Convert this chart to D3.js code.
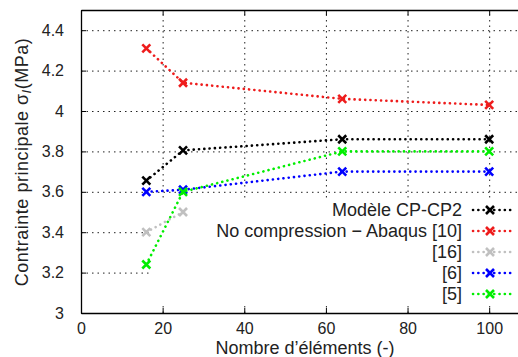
<!DOCTYPE html>
<html>
<head>
<meta charset="utf-8">
<script src="https://cdn.jsdelivr.net/npm/d3@7"></script>
<style>
  body { margin: 0; background: #fff; }
  svg text { font-family: "Liberation Sans", Arial, sans-serif; }
</style>
</head>
<body>
<div class="chartHolder"></div>
<script>
// data
var xVals = [16, 25, 64, 100];
var cpcp2 = [3.655, 3.805, 3.86, 3.86];
var noCompression = [4.31, 4.14, 4.06, 4.03];
var ref16 = [3.40, 3.50];
var ref6 = [3.60, 3.61, 3.70, 3.70];
var ref5 = [3.24, 3.60, 3.80, 3.80];
var seriesNames = ["Modèle CP-CP2", "No compression \u2212 Abaqus [10]", "[16]", "[6]", "[5]"];
var seriesColors = ["#000000", "#ee1c1c", "#c0c0c0", "#0000ff", "#00ee00"];
var xTicks = [0, 20, 40, 60, 80, 100];
var yTicks = [3, 3.2, 3.4, 3.6, 3.8, 4, 4.2, 4.4];

var svgW = 518, svgH = 357;
var margin = { top: 10, left: 81, bottom: 44 };
var w = 449, h = svgH - margin.top - margin.bottom;

var svg = d3.select(".chartHolder").append("svg").attr("width", svgW).attr("height", svgH);
var g = svg.append("g").attr("transform", "translate(" + margin.left + "," + margin.top + ")");

var xScale = d3.scaleLinear().domain([0, 110]).range([0, w]);
var yScale = d3.scaleLinear().domain([3, 4.5]).range([h, 0]);

// grid
var gridX = g.append("g").attr("class", "grid").attr("transform", "translate(0," + h + ")")
  .call(d3.axisBottom(xScale).tickValues(xTicks.slice(1)).tickSize(-h).tickFormat(""));
var gridY = g.append("g").attr("class", "grid")
  .call(d3.axisLeft(yScale).tickValues(yTicks.slice(1)).tickSize(-w).tickFormat(""));
g.selectAll(".grid .domain").remove();
g.selectAll(".grid line").attr("stroke", "#222").attr("stroke-width", 1).attr("stroke-dasharray", "1.5,4");

// opaque key box
g.append("rect").attr("x", 69).attr("y", 188).attr("width", w).attr("height", 107).attr("fill", "#fff");

// axes
var xAxis = g.append("g").attr("transform", "translate(0," + h + ")")
  .call(d3.axisBottom(xScale).tickValues(xTicks).tickSizeInner(-5).tickSizeOuter(0).tickPadding(10).tickFormat(d3.format("d")));
var xTop = g.append("g")
  .call(d3.axisTop(xScale).tickValues(xTicks).tickSizeInner(-5).tickSizeOuter(0).tickFormat(""));
var yAxis = g.append("g")
  .call(d3.axisLeft(yScale).tickValues(yTicks).tickSizeInner(-5).tickSizeOuter(0).tickPadding(17).tickFormat(function (d) { return d3.format("~g")(d); }));
[xAxis, xTop, yAxis].forEach(function (a) {
  a.attr("font-family", null);
  a.select(".domain").attr("stroke", "#000").attr("stroke-width", 1.3);
  a.selectAll("line").attr("stroke", "#000");
  a.selectAll("text").attr("font-size", 16).attr("fill", "#222");
});
xAxis.selectAll("text").attr("dy", "0.71em");

// series
var series = [cpcp2, noCompression, ref16, ref6, ref5];
var line = d3.line().x(function (d) { return xScale(d[0]); }).y(function (d) { return yScale(d[1]); });

function cross(sel, color) {
  sel.append("path").attr("d", "M-4,-4L4,4M-4,4L4,-4")
    .attr("stroke", color).attr("stroke-width", 2.6).attr("fill", "none");
}

series.forEach(function (vals, i) {
  var pts = vals.map(function (v, j) { return [xVals[j], v]; });
  g.append("path").datum(pts).attr("d", line).attr("fill", "none")
    .attr("stroke", seriesColors[i]).attr("stroke-width", 2.6)
    .attr("stroke-linecap", "round").attr("stroke-dasharray", "0.1,5.2");
  g.selectAll(null).data(pts).enter().append("g")
    .attr("transform", function (d) { return "translate(" + xScale(d[0]) + "," + yScale(d[1]) + ")"; })
    .each(function () { cross(d3.select(this), seriesColors[i]); });
});

// legend
var legend = g.append("g");
seriesNames.forEach(function (name, i) {
  var ly = 200 + i * 21;
  legend.append("text").attr("x", 381).attr("y", ly).attr("dy", "0.35em")
    .attr("text-anchor", "end").attr("font-size", 18)
    .attr("fill", "#222").text(name);
  legend.append("line").attr("x1", 392).attr("x2", 434).attr("y1", ly).attr("y2", ly)
    .attr("stroke", seriesColors[i]).attr("stroke-width", 2.6)
    .attr("stroke-linecap", "round").attr("stroke-dasharray", "0.1,5.2");
  var m = legend.append("g").attr("transform", "translate(" + 409 + "," + ly + ")");
  cross(m, seriesColors[i]);
});

// axis titles
svg.append("text").attr("x", 305).attr("y", 354)
  .attr("text-anchor", "middle").attr("font-size", 18)
  .attr("fill", "#222").text("Nombre d\u2019éléments (-)");

var yt = svg.append("text").attr("transform", "translate(28,162) rotate(-90)")
  .attr("text-anchor", "middle").attr("font-size", 18).attr("letter-spacing", 0.5).attr("fill", "#222");
yt.append("tspan").text("Contrainte principale \u03c3");
yt.append("tspan").attr("font-style", "italic").attr("font-size", 13).attr("dy", 3).text("I");
yt.append("tspan").attr("dy", -3).text("(MPa)");
</script>
</body>
</html>
